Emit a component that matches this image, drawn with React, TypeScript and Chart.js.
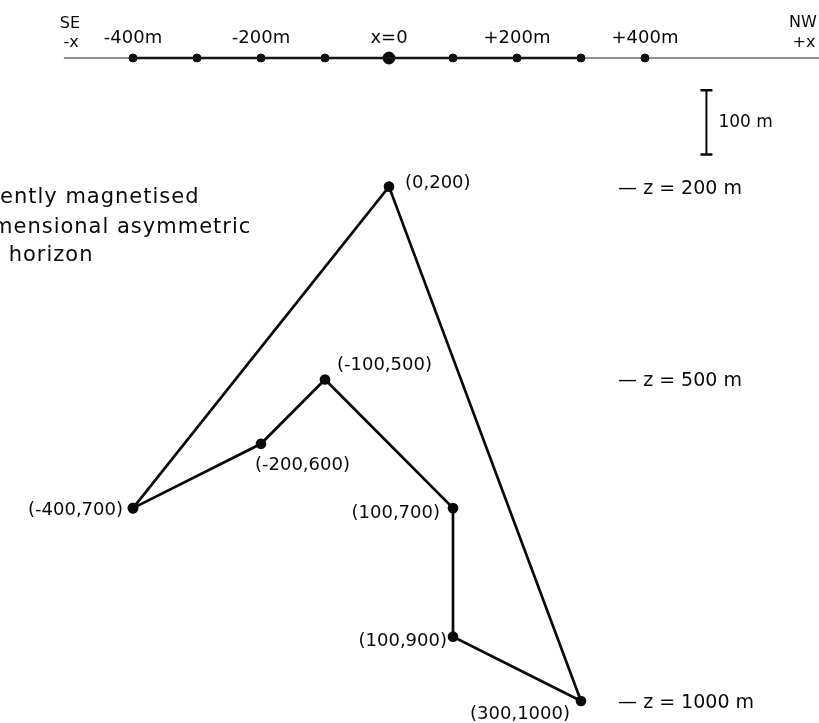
import React, { useEffect, useRef } from "react";
import { Chart, registerables } from "chart.js";

Chart.register(...registerables);

// Horizon polygon vertices (x, z in metres), drawn in order and closed
const horizonX = [-400, 0, 300, 100, 100, -100, -200, -400];
const horizonZ = [700, 200, 1000, 900, 700, 500, 600, 700];

// Labelled vertices
const vertexX = [0, -100, -200, -400, 100, 100, 300];
const vertexZ = [200, 500, 600, 700, 700, 900, 1000];
const vertexLabels = ["(0,200)", "(-100,500)", "(-200,600)", "(-400,700)", "(100,700)", "(100,900)", "(300,1000)"];

// Surface profile with stations every 100 m
const stationX = [-400, -300, -200, -100, 0, 100, 200, 300, 400];
const profileExtentX = [-508, 690];
const profileMainX = [-400, 300];
const surfaceZ = 0;

// Top tick labels
const topLabelX = [-400, -200, 0, 200, 400];
const topLabels = ["-400m", "-200m", "x=0", "+200m", "+400m"];

// Depth markers
const depthZ = [200, 500, 1000];
const depthLabels = ["— z = 200 m", "— z = 500 m", "— z = 1000 m"];

// 100 m scale bar
const scaleBarX = [496, 496];
const scaleBarZ = [50, 150];
const scaleBarLabel = "100 m";

const titleLines = ["ently magnetised", "mensional asymmetric", " horizon"];

// layout (pixel offsets) for vertex labels: [dx, dy, align]
const vertexLabelLayout: [number, number, CanvasTextAlign][] = [
  [16, -3, "left"],
  [12, -14, "left"],
  [-6, 22, "left"],
  [-10, 2, "right"],
  [-13, 5, "right"],
  [-6, 5, "right"],
  [-11, 13, "right"],
];

const FONT = "'DejaVu Sans', sans-serif";

const labelPlugin = {
  id: "labels",
  afterDatasetsDraw(chart: any) {
    const { ctx, scales } = chart;
    const xs = scales.x;
    const ys = scales.y;
    ctx.save();
    ctx.fillStyle = "#0a0a0a";

    // vertex labels
    ctx.font = `18px ${FONT}`;
    ctx.textBaseline = "middle";
    vertexLabels.forEach((t, i) => {
      const [dx, dy, al] = vertexLabelLayout[i];
      ctx.textAlign = al;
      ctx.fillText(t, xs.getPixelForValue(vertexX[i]) + dx, ys.getPixelForValue(vertexZ[i]) + dy);
    });

    // top labels
    const yLine = ys.getPixelForValue(surfaceZ);
    ctx.font = `18px ${FONT}`;
    ctx.textAlign = "center";
    topLabels.forEach((t, i) => {
      ctx.fillText(t, xs.getPixelForValue(topLabelX[i]), yLine - 20);
    });
    ctx.font = `16px ${FONT}`;
    ctx.fillText("SE", 70, yLine - 34);
    ctx.fillText("-x", 71, yLine - 15);
    ctx.fillText("NW", 803, yLine - 35);
    ctx.fillText("+x", 804, yLine - 15);

    // depth labels
    ctx.font = `19px ${FONT}`;
    ctx.textAlign = "left";
    depthLabels.forEach((t, i) => {
      ctx.fillText(t, xs.getPixelForValue(358), ys.getPixelForValue(depthZ[i]) + 2);
    });

    // scale bar label and caps
    const bx = xs.getPixelForValue(scaleBarX[0]);
    const by0 = ys.getPixelForValue(scaleBarZ[0]);
    const by1 = ys.getPixelForValue(scaleBarZ[1]);
    ctx.strokeStyle = "#0a0a0a";
    ctx.lineWidth = 2.5;
    ctx.beginPath();
    ctx.moveTo(bx - 6, by0);
    ctx.lineTo(bx + 6, by0);
    ctx.moveTo(bx - 6, by1);
    ctx.lineTo(bx + 6, by1);
    ctx.stroke();
    ctx.font = `17px ${FONT}`;
    ctx.fillText(scaleBarLabel, bx + 12, (by0 + by1) / 2);

    // title block
    ctx.font = `21px ${FONT}`;
    (ctx as any).letterSpacing = "1px";
    ctx.textBaseline = "alphabetic";
    ctx.fillText(titleLines[0], 0, 203);
    ctx.fillText(titleLines[1], -8, 233);
    ctx.fillText(titleLines[2], 1, 261);
    ctx.restore();
  },
};

export default function App() {
  const ref = useRef<HTMLCanvasElement | null>(null);
  useEffect(() => {
    document.body.style.margin = "0";
    const canvas = ref.current!;
    const chart = new Chart(canvas, {
      type: "scatter",
      data: {
        datasets: [
          {
            data: profileExtentX.map((x) => ({ x, y: surfaceZ })),
            showLine: true,
            borderColor: "#222",
            borderWidth: 1.2,
            pointRadius: 0,
          },
          {
            data: profileMainX.map((x) => ({ x, y: surfaceZ })),
            showLine: true,
            borderColor: "#0a0a0a",
            borderWidth: 2.5,
            pointRadius: 0,
          },
          {
            data: stationX.map((x) => ({ x, y: surfaceZ })),
            showLine: false,
            backgroundColor: "#0a0a0a",
            borderColor: "#0a0a0a",
            pointRadius: stationX.map((x) => (x === 0 ? 6 : 4)),
          },
          {
            data: horizonX.map((x, i) => ({ x, y: horizonZ[i] })),
            showLine: true,
            borderColor: "#0a0a0a",
            borderWidth: 2.7,
            backgroundColor: "#0a0a0a",
            pointRadius: 4,
            tension: 0,
            clip: false,
          },
          {
            data: scaleBarX.map((x, i) => ({ x, y: scaleBarZ[i] })),
            showLine: true,
            borderColor: "#0a0a0a",
            borderWidth: 2,
            pointRadius: 0,
          },
        ],
      },
      options: {
        animation: false,
        responsive: false,
        maintainAspectRatio: false,
        layout: { padding: 0, autoPadding: false },
        plugins: { legend: { display: false }, tooltip: { enabled: false } },
        scales: {
          x: { type: "linear", min: -607.8, max: 671.9, display: false },
          y: { type: "linear", min: -90.2, max: 1034.2, reverse: true, display: false },
        },
      },
      plugins: [labelPlugin],
    });
    return () => chart.destroy();
  }, []);
  return (
    <div style={{ width: 819, height: 723, background: "#fff" }}>
      <canvas ref={ref} width={819} height={723} style={{ display: "block" }} />
    </div>
  );
}
